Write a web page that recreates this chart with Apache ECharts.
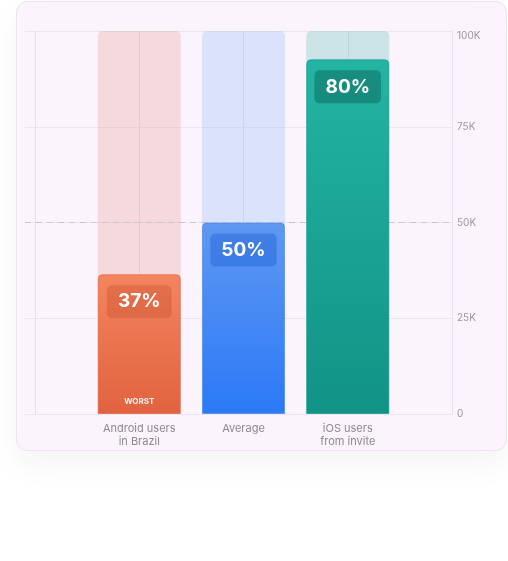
<!DOCTYPE html>
<html>
<head>
<meta charset="utf-8">
<script src="https://cdn.jsdelivr.net/npm/echarts@6/dist/echarts.min.js"></script>
<style>
html,body{margin:0;padding:0;background:#ffffff;}
#chart{width:508px;height:561px;}
</style>
</head>
<body>
<div id="chart"></div>
<script>
// ---- data ----
const categories = ['', 'Android users\nin Brazil', 'Average', 'iOS users\nfrom invite', ''];
const values = ['-', 36500, 50000, 92600, '-'];
const maxValues = ['-', 100000, 100000, 100000, '-'];
const percentLabels = ['', '37%', '50%', '80%', ''];
const badgeLabels = ['', 'WORST', '', '', ''];
const averageValue = 50000;
const yTicks = [0, 25000, 50000, 75000, 100000];

const chart = echarts.init(document.getElementById('chart'), null, {renderer: 'canvas'});

const fgStyles = [
  null,
  {top: '#f3855f', bottom: '#e2623f', box: 'rgba(190,60,30,0.28)', border: 'rgba(220,90,60,0.6)'},
  {top: '#6098f1', bottom: '#2a79f7', box: 'rgba(20,90,210,0.38)', border: 'rgba(70,130,230,0.6)'},
  {top: '#23b4a4', bottom: '#119386', box: 'rgba(10,95,85,0.45)', border: 'rgba(20,150,135,0.7)'},
  null
];
const bgColors = [null, 'rgba(232,154,145,0.3)', 'rgba(140,190,250,0.3)', 'rgba(105,194,192,0.33)', null];

const fgData = values.map((v, i) => {
  if (v === '-') return '-';
  const s = fgStyles[i];
  return {
    value: v,
    itemStyle: {
      color: new echarts.graphic.LinearGradient(0, 0, 0, 1, [
        {offset: 0, color: s.top}, {offset: 1, color: s.bottom}
      ]),
      borderColor: s.border,
      borderWidth: 1,
      borderRadius: [4, 4, 0, 0]
    },
    label: {backgroundColor: s.box}
  };
});

const bgData = maxValues.map((v, i) => v === '-' ? '-' : {
  value: v,
  itemStyle: {color: bgColors[i], borderRadius: [5, 5, 0, 0]}
});

const worstData = values.map((v, i) => badgeLabels[i] ? v : '-');

const option = {
  animation: false,
  backgroundColor: '#ffffff',
  textStyle: {fontFamily: 'Inter, "Noto Sans", sans-serif'},
  graphic: [{
    type: 'rect',
    z: -10,
    silent: true,
    shape: {x: 16.5, y: 1.5, width: 490, height: 449, r: 11},
    style: {fill: '#fcf4fc', stroke: '#ebe3ee', lineWidth: 1,
            shadowBlur: 30, shadowOffsetY: 14, shadowColor: 'rgba(80,40,80,0.05)'}
  }],
  grid: [
    {left: 25, right: 56, top: 31, bottom: 147},
    {left: 35, right: 56, top: 31, bottom: 147}
  ],
  xAxis: [
    {gridIndex: 0, type: 'value', min: 0, max: 1, show: false},
    {
      gridIndex: 1, type: 'category', data: categories, boundaryGap: false,
      axisLine: {show: false}, axisTick: {show: false},
      axisLabel: {color: '#8c8790', fontSize: 11, lineHeight: 13, margin: 8, interval: 0},
      splitLine: {show: true, lineStyle: {color: '#e6e0ec', width: 1}}
    }
  ],
  yAxis: [
    {
      gridIndex: 0, type: 'value', min: 0, max: 100000, interval: 25000, position: 'right',
      axisLine: {show: true, onZero: false, lineStyle: {color: '#e8e2ec'}}, axisTick: {show: false},
      axisLabel: {
        color: '#9a96a0', fontSize: 10, margin: 5,
        formatter: v => v === 100000 ? '{top|100K}' : (v === 0 ? '0' : (v / 1000) + 'K'),
        rich: {top: {fontSize: 10, color: '#9a96a0', padding: [10, 0, 0, 0]}}
      },
      splitLine: {show: true, lineStyle: {color: '#ebe5f0', width: 1}}
    },
    {
      gridIndex: 1, type: 'value', min: 0, max: 100000, interval: 25000, show: false
    }
  ],
  series: [
    {
      type: 'bar', name: 'max', xAxisIndex: 1, yAxisIndex: 1,
      data: bgData, barWidth: 83, barGap: '-100%', z: 1, silent: true
    },
    {
      type: 'line', name: 'avg', xAxisIndex: 0, yAxisIndex: 0, data: [], z: 2,
      markLine: {
        silent: true, symbol: 'none', z: 2,
        label: {show: false},
        lineStyle: {color: '#c9c5d2', type: [6, 5], width: 1},
        data: [{yAxis: averageValue}]
      }
    },
    {
      type: 'bar', name: 'value', xAxisIndex: 1, yAxisIndex: 1,
      data: fgData, barWidth: 83, barGap: '-100%', z: 3,
      label: {
        show: true, position: 'insideTop', distance: 11,
        formatter: p => percentLabels[p.dataIndex],
        color: '#ffffff', fontSize: 19, fontWeight: 'bold',
        lineHeight: 21, padding: [6, 11, 6, 11], borderRadius: 5
      }
    },
    {
      type: 'bar', name: 'badge', xAxisIndex: 1, yAxisIndex: 1,
      data: worstData, barWidth: 83, barGap: '-100%', z: 4,
      itemStyle: {color: 'rgba(0,0,0,0)'},
      label: {
        show: true, position: 'insideBottom', distance: 8,
        formatter: p => badgeLabels[p.dataIndex],
        color: 'rgba(255,255,255,0.92)', fontSize: 8, fontWeight: 'bold'
      }
    }
  ]
};
chart.setOption(option);
</script>
</body>
</html>
